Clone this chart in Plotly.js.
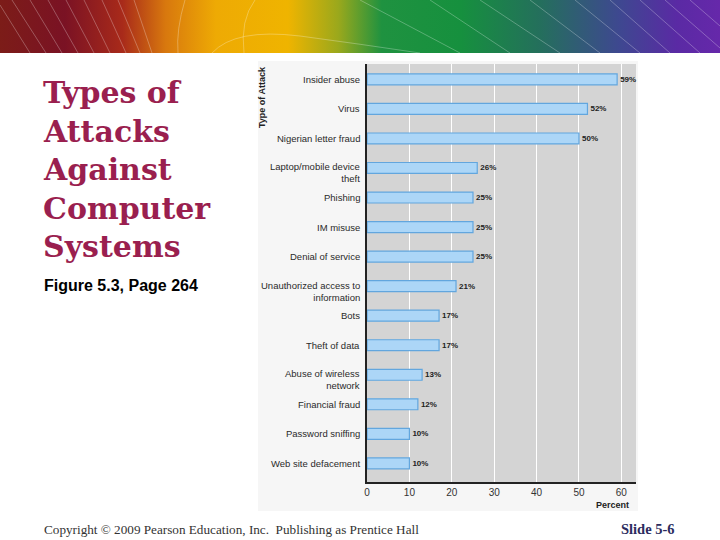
<!DOCTYPE html>
<html>
<head>
<meta charset="utf-8">
<script src="https://cdn.plot.ly/plotly-3.0.1.min.js"></script>
<style>
  html, body { margin: 0; padding: 0; background: #ffffff; }
  #wrap { position: relative; width: 720px; height: 540px; overflow: hidden; }
  #banner { position: absolute; left: 0; top: 0; width: 720px; height: 53px;
    background: linear-gradient(90deg, #7c1c18 0%, #7a1224 9%, #a82a1a 17%, #d8780e 23%, #eeaa04 30%, #efb400 40%, #9aa81c 47%, #1f9240 53%, #16903e 64%, #246f5c 75%, #3e4890 86%, #5a2aa4 94%, #6628aa 100%); }
  #lines { position: absolute; left: 0; top: 0; width: 720px; height: 53px; }
  #panel { position: absolute; left: 258px; top: 61px; width: 380px; height: 450px; background: #f6f6f6; }
  #chart { position: absolute; left: 0; top: 0; width: 720px; height: 540px; }
</style>
</head>
<body>
<div id="wrap">
  <div id="banner"></div>
  <svg id="lines" width="720" height="53">
    <g stroke="rgba(255,255,255,0.35)" stroke-width="0.8" fill="none">
      <line x1="0" y1="5" x2="30" y2="53"/><line x1="12" y1="0" x2="46" y2="53"/>
      <line x1="30" y1="0" x2="62" y2="53"/><line x1="48" y1="0" x2="78" y2="53"/>
      <line x1="66" y1="0" x2="94" y2="53"/><line x1="84" y1="0" x2="110" y2="53"/>
      <line x1="102" y1="0" x2="126" y2="53"/><line x1="118" y1="0" x2="140" y2="53"/>
      <line x1="134" y1="0" x2="152" y2="53"/>
      <path d="M185 0 Q176 30 178 53"/>
      <path d="M255 0 Q240 20 244 53"/>
      <path d="M212 53 Q235 28 300 36 Q360 44 420 53"/>
      <line x1="360" y1="0" x2="460" y2="53"/><line x1="430" y1="0" x2="510" y2="53"/>
      <line x1="480" y1="0" x2="560" y2="53"/><line x1="530" y1="0" x2="600" y2="53"/>
      <line x1="575" y1="0" x2="640" y2="53"/><line x1="610" y1="0" x2="670" y2="53"/>
      <line x1="640" y1="0" x2="700" y2="53"/><line x1="665" y1="0" x2="720" y2="48"/>
      <line x1="690" y1="0" x2="720" y2="26"/>
    </g>
  </svg>
  <div id="panel"></div>
  <div id="chart"></div>
</div>
<script>
// ---- data ----
var categories = [
  "Insider abuse",
  "Virus",
  "Nigerian letter fraud",
  "Laptop/mobile device<br>theft",
  "Phishing",
  "IM misuse",
  "Denial of service",
  "Unauthorized access to<br>information",
  "Bots",
  "Theft of data",
  "Abuse of wireless<br>network",
  "Financial fraud",
  "Password sniffing",
  "Web site defacement"
];
var percents = [59, 52, 50, 26, 25, 25, 25, 21, 17, 17, 13, 12, 10, 10];
var xTickVals = [0, 10, 20, 30, 40, 50, 60];
var titleLines = ["Types of", "Attacks", "Against", "Computer", "Systems"];
var subtitle = "Figure 5.3, Page 264";
var yAxisTitle = "Type of Attack";
var xAxisTitle = "Percent";
var footerLeft = "Copyright \u00A9 2009 Pearson Education, Inc.  Publishing as Prentice Hall";
var footerRight = "Slide 5-6";

// ---- geometry helpers (pixel -> paper) ----
var L = 367, R = 636, T = 64, B = 482;
function px(x) { return (x - L) / (R - L); }
function py(y) { return (B - y) / (B - T); }

var yIdx = categories.map(function (c, i) { return i; });

var trace = {
  type: "bar",
  orientation: "h",
  x: percents,
  y: yIdx,
  width: 0.37,
  marker: { color: "#acd6f7", line: { color: "#62a6de", width: 1.2 } },
  texttemplate: "<b>%{x}%</b>",
  textposition: "outside",
  cliponaxis: false,
  textfont: { family: "Liberation Sans, Arial, sans-serif", size: 8, color: "#222222" },
  hoverinfo: "skip"
};

var annotations = [];
// category labels
categories.forEach(function (c, i) {
  var twoLine = c.indexOf("<br>") >= 0;
  annotations.push({
    x: 0, y: i, xref: "x", yref: "y",
    text: c, showarrow: false, align: "right",
    xanchor: "right", yanchor: "middle", xshift: -5, yshift: twoLine ? -5 : 0,
    font: { family: "Liberation Sans, Arial, sans-serif", size: 9.5, color: "#2a2a2a" }
  });
});
// y axis title
annotations.push({
  x: px(262), y: py(97), xref: "paper", yref: "paper",
  text: "<b>" + yAxisTitle + "</b>", textangle: -90, showarrow: false,
  xanchor: "center", yanchor: "middle",
  font: { family: "Liberation Sans, Arial, sans-serif", size: 9, color: "#222222" }
});
// x axis title
annotations.push({
  x: px(631), y: py(505), xref: "paper", yref: "paper",
  text: "<b>" + xAxisTitle + "</b>", showarrow: false,
  xanchor: "right", yanchor: "middle",
  font: { family: "Liberation Sans, Arial, sans-serif", size: 9, color: "#222222" }
});
// slide title lines
var titleY = [92, 131, 169, 208, 246];
titleLines.forEach(function (t, i) {
  annotations.push({
    x: px(41), y: py(titleY[i]), xref: "paper", yref: "paper",
    text: "<b>" + t + "</b>", showarrow: false,
    xanchor: "left", yanchor: "middle",
    font: { family: "DejaVu Serif, serif", size: 30, color: "#9a1f4f" }
  });
});
annotations.push({
  x: px(42), y: py(285), xref: "paper", yref: "paper",
  text: "<b>" + subtitle + "</b>", showarrow: false,
  xanchor: "left", yanchor: "middle",
  font: { family: "Liberation Sans, Arial, sans-serif", size: 16, color: "#000000" }
});
annotations.push({
  x: px(42), y: py(529), xref: "paper", yref: "paper",
  text: footerLeft, showarrow: false,
  xanchor: "left", yanchor: "middle",
  font: { family: "Liberation Serif, serif", size: 13.2, color: "#333333" }
});
annotations.push({
  x: px(677), y: py(529), xref: "paper", yref: "paper",
  text: "<b>" + footerRight + "</b>", showarrow: false,
  xanchor: "right", yanchor: "middle",
  font: { family: "Liberation Serif, serif", size: 14.5, color: "#2c2c5e" }
});

var layout = {
  width: 720, height: 540,
  margin: { l: L, r: 720 - R, t: T, b: 540 - B, pad: 0 },
  paper_bgcolor: "rgba(0,0,0,0)",
  plot_bgcolor: "#d4d4d4",
  showlegend: false,
  xaxis: {
    range: [0, 63.45], tickvals: xTickVals, ticktext: xTickVals.map(String),
    showgrid: true, gridcolor: "#ffffff", gridwidth: 1, zeroline: false,
    showline: true, linecolor: "#222222", linewidth: 2, layer: "below traces",
    ticks: "", tickfont: { family: "Liberation Sans, Arial, sans-serif", size: 10, color: "#333333" },
    fixedrange: true
  },
  yaxis: {
    range: [13.63, -0.52], showticklabels: false, showgrid: false, zeroline: false,
    showline: true, linecolor: "#222222", linewidth: 2, layer: "below traces",
    ticks: "", fixedrange: true
  },
  annotations: annotations
};

Plotly.newPlot("chart", [trace], layout, { displayModeBar: false, staticPlot: true });
</script>
</body>
</html>
